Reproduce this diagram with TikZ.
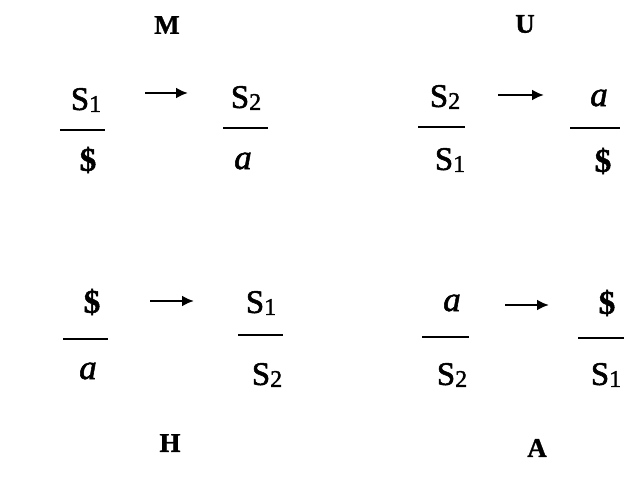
\documentclass[tikz,border=0pt]{standalone}
\usepackage{fontspec}
\setmainfont{Liberation Serif}
\newfontfamily\symfont[FakeBold=1.6]{Liberation Serif}
\newfontfamily\lblfont[FakeBold=1.2]{Liberation Serif Bold}
\usetikzlibrary{arrows.meta}
\newcommand{\Sx}[1]{S\raisebox{-2pt}{\fontsize{24}{25}\selectfont #1}}
\begin{document}
\begin{tikzpicture}[x=1pt,y=-1pt,
  lbl/.style={font=\lblfont\fontsize{27}{29}\selectfont, inner sep=0pt},
  sym/.style={font=\symfont\fontsize{33}{35}\selectfont, inner sep=0pt},
  ital/.style={font=\symfont\fontsize{35}{37}\selectfont\itshape, inner sep=0pt},
  bar/.style={line width=2.8pt},
  arr/.style={line width=2.8pt, -{Latex[length=12pt,width=11pt]}}]
\useasboundingbox (0,0) rectangle (624,494);
\fill[white] (0,0) rectangle (624,494);
% M
\node[lbl] (M) at (167,25) {M};
\node[sym] (m1) at (86,100) {\Sx{1}};
\node[sym] (m2) at (88,160) {\bfseries\$};
\coordinate (mb1l) at (60,130); \coordinate (mb1r) at (105,130);
\draw[bar] (mb1l) -- (mb1r);
\coordinate (ma1) at (145,93); \coordinate (ma2) at (188,93);
\draw[arr] (ma1) -- (ma2);
\node[sym] (m3) at (246,98) {\Sx{2}};
\node[ital] (m4) at (243,161) {a};
\coordinate (mb2l) at (223,128); \coordinate (mb2r) at (268,128);
\draw[bar] (mb2l) -- (mb2r);
% U
\node[lbl] (U) at (525,24) {U};
\node[sym] (u1) at (445,97) {\Sx{2}};
\node[sym] (u2) at (450,160) {\Sx{1}};
\coordinate (ub1l) at (418,127); \coordinate (ub1r) at (465,127);
\draw[bar] (ub1l) -- (ub1r);
\coordinate (ua1) at (498,95); \coordinate (ua2) at (544,95);
\draw[arr] (ua1) -- (ua2);
\node[ital] (u3) at (599,98) {a};
\node[sym] (u4) at (603,161) {\bfseries\$};
\coordinate (ub2l) at (570,128); \coordinate (ub2r) at (620,128);
\draw[bar] (ub2l) -- (ub2r);
% H
\node[lbl] (H) at (170,443) {H};
\node[sym] (h1) at (92,302) {\bfseries\$};
\node[ital] (h2) at (88,371) {a};
\coordinate (hb1l) at (63,339); \coordinate (hb1r) at (108,339);
\draw[bar] (hb1l) -- (hb1r);
\coordinate (ha1) at (150,301); \coordinate (ha2) at (194,301);
\draw[arr] (ha1) -- (ha2);
\node[sym] (h3) at (261,303) {\Sx{1}};
\node[sym] (h4) at (267,375) {\Sx{2}};
\coordinate (hb2l) at (238,335); \coordinate (hb2r) at (283,335);
\draw[bar] (hb2l) -- (hb2r);
% A
\node[lbl] (A) at (537,448) {A};
\node[ital] (a1) at (452,303) {a};
\node[sym] (a2) at (452,375) {\Sx{2}};
\coordinate (ab1l) at (422,337); \coordinate (ab1r) at (469,337);
\draw[bar] (ab1l) -- (ab1r);
\coordinate (aa1) at (505,305); \coordinate (aa2) at (549,305);
\draw[arr] (aa1) -- (aa2);
\node[sym] (a3) at (607,303) {\bfseries\$};
\node[sym] (a4) at (606,375) {\Sx{1}};
\coordinate (ab2l) at (578,338); \coordinate (ab2r) at (624,338);
\draw[bar] (ab2l) -- (ab2r);
\end{tikzpicture}
\end{document}
